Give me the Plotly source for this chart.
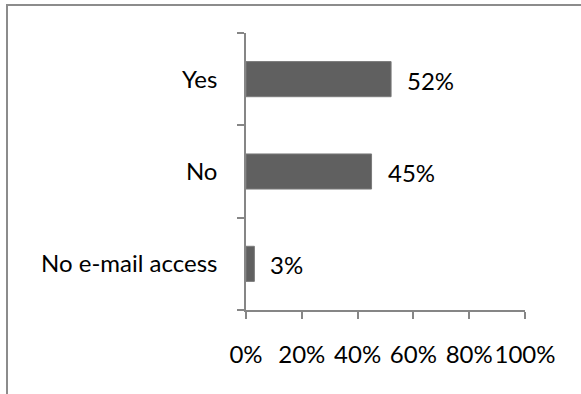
import plotly.graph_objects as go

categories = ["Yes", "No", "No e-mail access"]
values = [52, 45, 3]
value_labels = ["52%", "45%", "3%"]
x_tick_vals = [0, 20, 40, 60, 80, 100]
x_tick_text = ["0%", "20%", "40%", "60%", "80%", "100%"]

W, H = 581, 394
ML, MR, MT, MB = 246, 56, 33, 84
FONT = "Lato"
FS = 24

fig = go.Figure()
fig.add_trace(go.Bar(
    x=values, y=categories, orientation="h",
    marker=dict(color="#606060", line=dict(color="#7a7a7a", width=1)),
    hoverinfo="skip",
))

for c, v, t in zip(categories, values, value_labels):
    fig.add_annotation(x=v, y=c, text=t, showarrow=False, xanchor="left",
                       xshift=14, yshift=-1, font=dict(family=FONT, size=FS, color="#000"))

pw = W - ML - MR
ph = H - MT - MB
def px_to_paper_x(px):
    return (px - ML) / pw
def px_to_paper_y(py):
    return (H - MB - py) / ph

border = dict(color="#8c8c8c", width=2)
fig.add_shape(type="line", xref="paper", yref="paper",
              x0=px_to_paper_x(7), x1=px_to_paper_x(7),
              y0=px_to_paper_y(H + 5), y1=px_to_paper_y(5), line=border)
fig.add_shape(type="line", xref="paper", yref="paper",
              x0=px_to_paper_x(6), x1=px_to_paper_x(W + 5),
              y0=px_to_paper_y(5), y1=px_to_paper_y(5), line=border)

fig.update_layout(
    width=W, height=H,
    margin=dict(l=ML, r=MR, t=MT, b=MB, pad=0, autoexpand=False),
    paper_bgcolor="white", plot_bgcolor="white",
    bargap=0.62,
    showlegend=False,
    font=dict(family=FONT, size=FS, color="#000"),
    xaxis=dict(range=[0, 100], tickvals=x_tick_vals, ticktext=x_tick_text,
               showgrid=False, zeroline=False, showline=True,
               linecolor="#868686", linewidth=1.5, tickangle=0, automargin=False,
               ticks="outside", ticklen=7, tickcolor="#868686", tickwidth=1.5,
               ticklabelstandoff=15, fixedrange=True),
    yaxis=dict(categoryorder="array", categoryarray=categories[::-1],
               showgrid=False, zeroline=False, showline=True, automargin=False,
               linecolor="#868686", linewidth=1.5,
               ticks="outside", ticklen=7, tickcolor="#868686", tickwidth=1.5,
               tickson="boundaries", ticklabelstandoff=22, fixedrange=True),
)

fig.write_html("out.html", config={"displayModeBar": False},
               post_script="document.body.style.margin='0';")
